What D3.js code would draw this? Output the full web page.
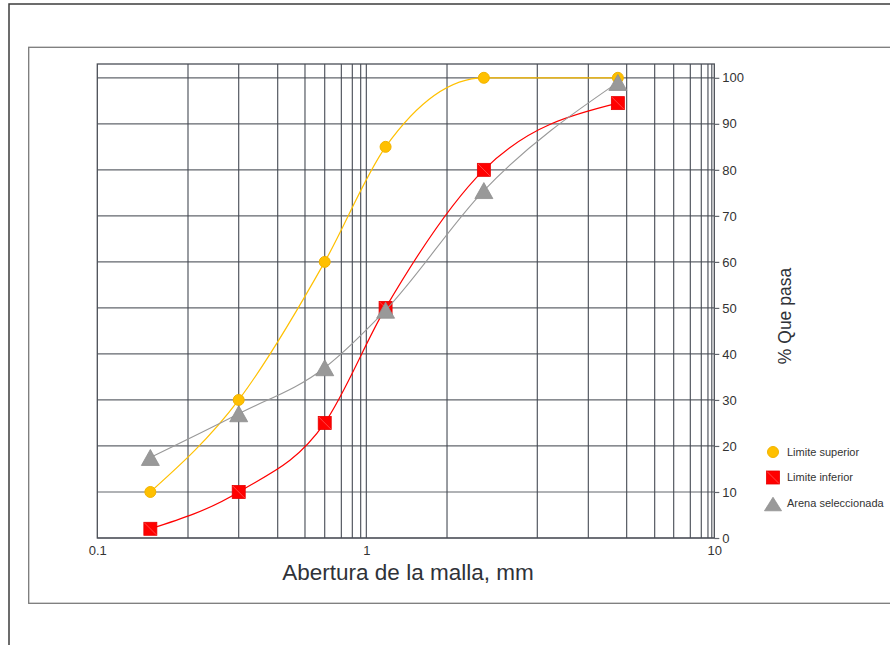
<!DOCTYPE html>
<html>
<head>
<meta charset="utf-8">
<script src="https://cdn.jsdelivr.net/npm/d3@7"></script>
<style>
  body { margin: 0; background: #fff; }
  svg { display: block; font-family: "Liberation Sans", Arial, sans-serif; }
</style>
</head>
<body>
<svg id="chart" width="890" height="645"></svg>
<script>
// Sieve openings (mm) and percent passing for each curve
const sieveSizes   = [0.15, 0.3, 0.6, 1.18, 2.36, 4.75];
const upperLimit   = [10, 30, 60, 85, 100, 100];
const lowerLimit   = [2, 10, 25, 50, 80, 94.5];
const selectedSand = [17.5, 27, 37, 49.5, 75.5, 99];
const seriesNames  = ["Limite superior", "Limite inferior", "Arena seleccionada"];

// Axis labels / ticks
const xTickLabels = [0.1, 1, 10];
const yTicks = d3.range(0, 101, 10);
const xTitle = "Abertura de la malla, mm";
const yTitle = "% Que pasa";

// Opening-axis breakpoints and where each one sits across the plot width
const xBreaks     = [0.1, 0.2, 0.3, 0.4, 0.5, 0.6, 0.7, 0.8, 0.9, 1, 2, 3, 4, 5, 6, 7, 8, 9, 10];
const xBreakFrac  = [0, 0.147, 0.2292, 0.2924, 0.3366, 0.3686, 0.3955, 0.4133, 0.4269, 0.436,
                     0.5668, 0.7131, 0.7958, 0.858, 0.9034, 0.9342, 0.9611, 0.9789, 1];
const xGridValues = [...xBreaks.slice(1, -1), 9.5, 9.8];

const svg = d3.select("#chart");
const W = 890, H = 645;

// Sheet frames
svg.append("rect").attr("x", 9).attr("y", 4).attr("width", W).attr("height", H)
  .attr("fill", "none").attr("stroke", "#3c3c3c").attr("stroke-width", 1.5);
svg.append("rect").attr("x", 28.7).attr("y", 47.3).attr("width", W).attr("height", 556)
  .attr("fill", "none").attr("stroke", "#7a7a7a").attr("stroke-width", 1.3);

const plot = { left: 97.3, right: 714.3, top: 64, bottom: 538 };
const pw = plot.right - plot.left;

const x = d3.scaleLog()
  .domain(xBreaks)
  .range(xBreakFrac.map(f => plot.left + f * pw));
const y = d3.scaleLinear().domain([0, 103]).range([plot.bottom, plot.top]);

const g = svg.append("g");

// Horizontal grid
g.append("g").selectAll("line").data(yTicks).join("line")
  .attr("x1", plot.left).attr("x2", plot.right)
  .attr("y1", d => y(d)).attr("y2", d => y(d))
  .attr("stroke", "#62666d").attr("stroke-width", 1.2);

// Vertical grid
g.append("g").selectAll("line").data(xGridValues).join("line")
  .attr("x1", d => x(d)).attr("x2", d => x(d))
  .attr("y1", plot.top).attr("y2", plot.bottom)
  .attr("stroke", "#454a53").attr("stroke-width", 1.1);

// Plot border
g.append("rect")
  .attr("x", plot.left).attr("y", plot.top)
  .attr("width", pw).attr("height", plot.bottom - plot.top)
  .attr("fill", "none").attr("stroke", "#4a4e56").attr("stroke-width", 1.3);

// Right value axis
const yAxis = d3.axisRight(y).tickValues(yTicks).tickSize(5).tickPadding(3);
const ya = g.append("g").attr("transform", `translate(${plot.right},0)`).call(yAxis);
ya.select(".domain").remove();
ya.selectAll("line").attr("stroke", "#62666d").attr("stroke-width", 1.2);
ya.selectAll("text").attr("font-size", 13).attr("fill", "#333")
  .attr("font-family", "Liberation Sans, Arial, sans-serif");

// Bottom opening axis labels
const xAxis = d3.axisBottom(x).tickValues(xTickLabels).tickSize(0).tickPadding(8)
  .tickFormat(d3.format("~g"));
const xa = g.append("g").attr("transform", `translate(0,${plot.bottom})`).call(xAxis);
xa.select(".domain").remove();
xa.selectAll("text").attr("font-size", 13).attr("fill", "#333")
  .attr("font-family", "Liberation Sans, Arial, sans-serif");

// Axis titles
svg.append("text").attr("x", 408).attr("y", 580).attr("text-anchor", "middle")
  .attr("font-size", 22.5).attr("fill", "#2f3238").text(xTitle);
svg.append("text").attr("transform", "translate(791,316) rotate(-90)")
  .attr("text-anchor", "middle").attr("font-size", 17.5).attr("fill", "#2f3238").text(yTitle);

// Series
const series = [
  { name: seriesNames[0], values: upperLimit,   color: "#FFC000", shape: "circle",   lw: 1.2 },
  { name: seriesNames[1], values: lowerLimit,   color: "#FF0000", shape: "square",   lw: 1.2 },
  { name: seriesNames[2], values: selectedSand, color: "#999999", shape: "triangle", lw: 1.1 }
];

const line = d3.line().x(d => x(d[0])).y(d => y(d[1])).curve(d3.curveMonotoneX);

function drawMarker(sel, shape, color) {
  if (shape === "circle") {
    sel.append("circle").attr("r", 5.5).attr("fill", color).attr("stroke", "#f2b300").attr("stroke-width", 1);
  } else if (shape === "square") {
    sel.append("rect").attr("x", -6.5).attr("y", -6.5).attr("width", 13).attr("height", 13)
      .attr("fill", color).attr("stroke", "#e60000").attr("stroke-width", 0.8);
    sel.append("line").attr("x1", -6).attr("y1", -6).attr("x2", 6).attr("y2", 6)
      .attr("stroke", "rgba(255,255,255,0.35)").attr("stroke-width", 0.8);
  } else {
    sel.append("path").attr("d", "M0,-8L9,8L-9,8Z").attr("fill", color)
      .attr("stroke", "#8e8e8e").attr("stroke-width", 0.8);
  }
}

series.forEach(s => {
  const pts = sieveSizes.map((v, i) => [v, s.values[i]]);
  const sg = g.append("g");
  sg.append("path").datum(pts).attr("d", line)
    .attr("fill", "none").attr("stroke", s.color).attr("stroke-width", s.lw);
  sg.selectAll("g.m").data(pts).join("g").attr("class", "m")
    .attr("transform", d => `translate(${x(d[0])},${y(d[1])})`)
    .each(function () { drawMarker(d3.select(this), s.shape, s.color); });
});

// Legend
const legend = svg.append("g").attr("transform", "translate(773,452)");
series.forEach((s, i) => {
  const row = legend.append("g").attr("transform", `translate(0,${i * 25.5})`);
  const m = row.append("g").attr("transform", s.shape === "triangle" ? "translate(0,1) scale(0.95,0.85)" : null);
  drawMarker(m, s.shape, s.color);
  row.append("text").attr("x", 14).attr("y", 3.8).attr("font-size", 11).attr("fill", "#333").text(s.name);
});
</script>
</body>
</html>
